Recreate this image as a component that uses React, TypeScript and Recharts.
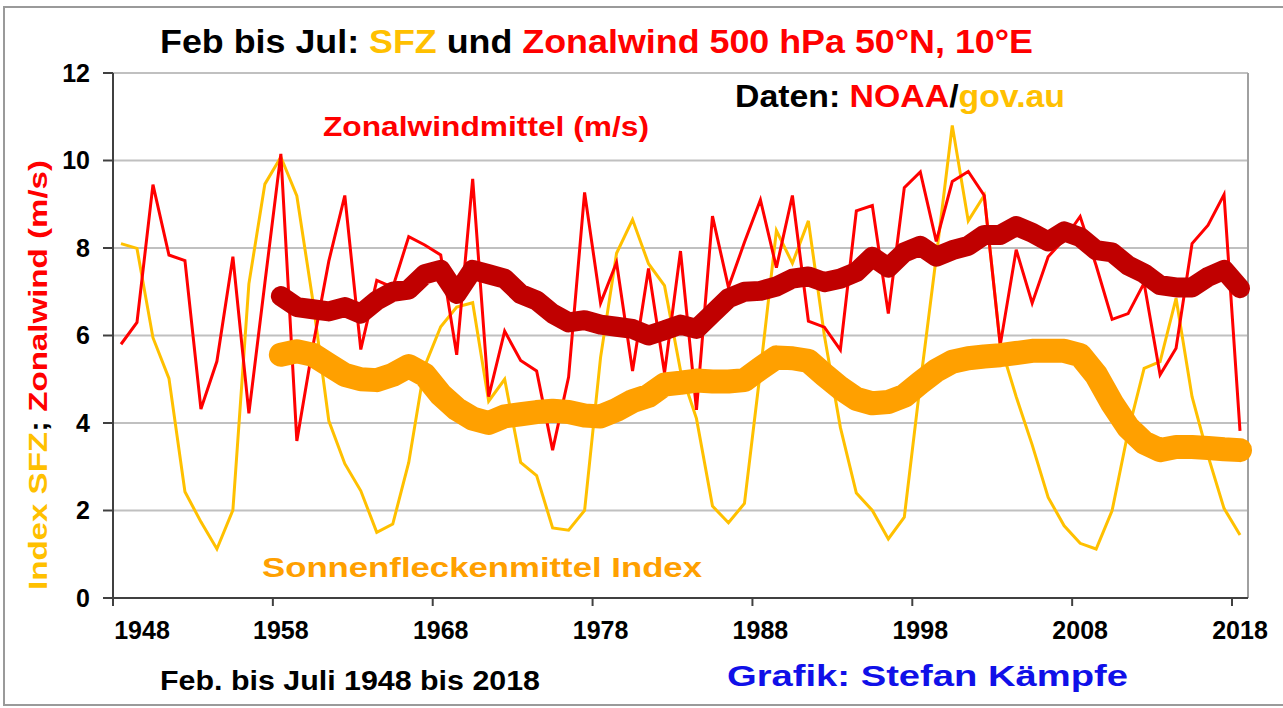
import React from 'react'
import { LineChart, Line, XAxis, YAxis, CartesianGrid, ReferenceLine } from 'recharts'

// Feb-Jul, 1948-2018
const years = [
  1948, 1949, 1950, 1951, 1952, 1953, 1954, 1955, 1956, 1957,
  1958, 1959, 1960, 1961, 1962, 1963, 1964, 1965, 1966, 1967,
  1968, 1969, 1970, 1971, 1972, 1973, 1974, 1975, 1976, 1977,
  1978, 1979, 1980, 1981, 1982, 1983, 1984, 1985, 1986, 1987,
  1988, 1989, 1990, 1991, 1992, 1993, 1994, 1995, 1996, 1997,
  1998, 1999, 2000, 2001, 2002, 2003, 2004, 2005, 2006, 2007,
  2008, 2009, 2010, 2011, 2012, 2013, 2014, 2015, 2016, 2017,
  2018,
]

// zonal wind 500 hPa (m/s)
const zonalWind = [
  5.8, 6.3, 9.45, 7.84, 7.71, 4.32, 5.41, 7.8, 4.22, 7.2,
  10.15, 3.59, 5.75, 7.7, 9.2, 5.68, 7.26, 7.1, 8.26, 8.07,
  7.84, 5.56, 9.58, 4.6, 6.1, 5.43, 5.19, 3.38, 5.05, 9.27,
  6.74, 7.67, 5.19, 7.53, 5.14, 7.93, 4.3, 8.73, 7.1, 8.13,
  9.1, 7.55, 9.2, 6.33, 6.19, 5.67, 8.85, 8.97, 6.5, 9.38,
  9.74, 8.15, 9.52, 9.75, 9.2, 5.78, 7.96, 6.74, 7.8, 8.2,
  8.72, 7.6, 6.37, 6.5, 7.2, 5.1, 5.71, 8.1, 8.52, 9.22,
  3.82,
]

// sunspot index (scaled)
const sfz = [
  8.1, 7.99, 5.95, 5.02, 2.43, 1.74, 1.12, 2.01, 7.18, 9.46,
  10.08, 9.19, 6.8, 4.05, 3.07, 2.45, 1.5, 1.69, 3.1, 5.3,
  6.2, 6.65, 6.75, 4.5, 5.0, 3.1, 2.8, 1.6, 1.55, 2.0,
  5.5, 7.88, 8.65, 7.64, 7.14, 5.2, 4.1, 2.1, 1.72, 2.16,
  5.2, 8.4, 7.65, 8.62, 6.0, 3.9, 2.4, 2.0, 1.35, 1.85,
  4.9, 7.8, 10.8, 8.62, 9.2, 5.8, 4.6, 3.5, 2.3, 1.65,
  1.25, 1.12, 2.0, 3.8, 5.25, 5.4, 6.85, 4.6, 3.25, 2.05,
  1.44,
]

// smoothed means start in 1958
const meanStart = 1958
const zonalMean = [
  6.9, 6.65, 6.6, 6.55, 6.65, 6.5, 6.8, 7.0, 7.05, 7.4,
  7.5, 6.95, 7.5, 7.4, 7.3, 6.95, 6.8, 6.5, 6.3, 6.35,
  6.25, 6.2, 6.15, 6.0, 6.12, 6.25, 6.15, 6.5, 6.85, 7.0,
  7.02, 7.12, 7.3, 7.35, 7.22, 7.3, 7.45, 7.8, 7.55, 7.9,
  8.05, 7.8, 7.95, 8.05, 8.3, 8.3, 8.5, 8.35, 8.15, 8.38,
  8.25, 7.95, 7.9, 7.6, 7.42, 7.15, 7.1, 7.1, 7.34, 7.5,
  7.08,
]
const sfzMean = [
  5.56, 5.64, 5.56, 5.33, 5.1, 5.0, 4.98, 5.1, 5.3, 5.1,
  4.65, 4.32, 4.1, 4.0, 4.15, 4.2, 4.25, 4.28, 4.25, 4.17,
  4.15, 4.3, 4.5, 4.62, 4.88, 4.92, 4.97, 4.95, 4.95, 4.98,
  5.25, 5.5, 5.48, 5.42, 5.1, 4.8, 4.55, 4.45, 4.48, 4.62,
  4.92, 5.2, 5.4, 5.48, 5.52, 5.55, 5.6, 5.65, 5.65, 5.65,
  5.55, 5.1, 4.45, 3.9, 3.55, 3.38, 3.45, 3.45, 3.43, 3.4,
  3.38,
]

const yTicks = [0, 2, 4, 6, 8, 10, 12]
const xLabels = [1948, 1958, 1968, 1978, 1988, 1998, 2008, 2018]

const font = '"Liberation Sans", Arial, sans-serif'
const RED = '#ff0000'
const YELLOW = '#ffc000'
const DARKRED = '#c00000'
const ORANGE = '#ffa000'

const data = years.map((year, i) => {
  const m = year - meanStart
  return {
    year,
    zonal: zonalWind[i],
    sfz: sfz[i],
    zonalMean: m >= 0 ? zonalMean[m] : null,
    sfzMean: m >= 0 ? sfzMean[m] : null,
  }
})

// tick marks sit between categories, labels in the middle of the category
// (first label is pushed inside the plot like in the original)
const XTick = (props: any) => {
  const { x, y, payload } = props
  const label = Math.round(payload.value + 0.5)
  const dx = label === xLabels[0] ? 29 : 8
  return (
    <text x={x + dx} y={y + 31} textAnchor="middle" fontSize={25} fontWeight="bold" fontFamily={font} fill="#000">
      {label}
    </text>
  )
}

export default function App() {
  return (
    <div style={{ position: 'absolute', left: 0, top: 0, width: 1283, height: 708, background: '#fff' }}>
      <LineChart width={1283} height={708} data={data} margin={{ top: 73, right: 35, bottom: 80, left: 53 }}>
        <CartesianGrid horizontal vertical={false} stroke="#c0c0c0" strokeWidth={2} />
        <XAxis
          dataKey="year"
          type="number"
          domain={[1947.5, 2018.5]}
          ticks={xLabels.map(v => v - 0.5)}
          interval={0}
          height={30}
          tickSize={8}
          stroke="#404040"
          strokeWidth={2}
          tick={<XTick />}
        />
        <YAxis
          domain={[0, 12]}
          ticks={yTicks}
          width={60}
          tickSize={10}
          tickMargin={13}
          stroke="#404040"
          strokeWidth={2}
          tick={{ fontSize: 25, fontWeight: 'bold', fill: '#000', fontFamily: font }}
        />
        <ReferenceLine x={2018.5} stroke="#a0a0a0" strokeWidth={2} />
        <Line dataKey="sfz" stroke={YELLOW} strokeWidth={3} dot={false} isAnimationActive={false} />
        <Line dataKey="zonal" stroke={RED} strokeWidth={3} dot={false} isAnimationActive={false} />
        <Line dataKey="sfzMean" stroke={ORANGE} strokeWidth={24} strokeLinecap="round" strokeLinejoin="round" dot={false} isAnimationActive={false} />
        <Line dataKey="zonalMean" stroke={DARKRED} strokeWidth={20} strokeLinecap="round" strokeLinejoin="round" dot={false} isAnimationActive={false} />
      </LineChart>

      <svg width={1283} height={708} style={{ position: 'absolute', left: 0, top: 0, pointerEvents: 'none' }} fontFamily={font} fontWeight="bold">
        <rect x={4} y={7} width={1290} height={698} fill="none" stroke="#9a9a9a" strokeWidth={2} />
        <text x={160} y={53} fontSize={34} textLength={873} lengthAdjust="spacingAndGlyphs">
          <tspan fill="#000">Feb bis Jul: </tspan>
          <tspan fill={YELLOW}>SFZ</tspan>
          <tspan fill="#000"> und </tspan>
          <tspan fill={RED}>Zonalwind 500 hPa 50°N, 10°E</tspan>
        </text>
        <text x={735} y={107} fontSize={31} textLength={330} lengthAdjust="spacingAndGlyphs">
          <tspan fill="#000">Daten: </tspan>
          <tspan fill={RED}>NOAA</tspan>
          <tspan fill="#000">/</tspan>
          <tspan fill={YELLOW}>gov.au</tspan>
        </text>
        <text x={323} y={136} fontSize={27} fill={RED} textLength={326} lengthAdjust="spacingAndGlyphs">
          Zonalwindmittel (m/s)
        </text>
        <text x={262} y={577} fontSize={28} fill={ORANGE} textLength={440} lengthAdjust="spacingAndGlyphs">
          Sonnenfleckenmittel  Index
        </text>
        <text x={160} y={690} fontSize={27} fill="#000" textLength={380} lengthAdjust="spacingAndGlyphs">
          Feb. bis Juli 1948 bis 2018
        </text>
        <text x={727} y={686} fontSize={29} fill="#1010e8" textLength={401} lengthAdjust="spacingAndGlyphs">
          Grafik: Stefan Kämpfe
        </text>
        <text transform="translate(47,590) rotate(-90)" fontSize={26} textLength={430} lengthAdjust="spacingAndGlyphs">
          <tspan fill={YELLOW}>Index SFZ</tspan>
          <tspan fill="#000">; </tspan>
          <tspan fill={RED}>Zonalwind (m/s)</tspan>
        </text>
      </svg>
    </div>
  )
}
